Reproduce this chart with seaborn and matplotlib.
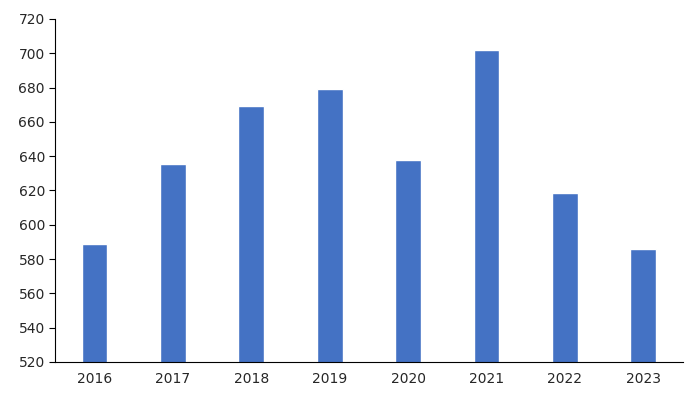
import matplotlib
matplotlib.use("Agg")
import matplotlib.pyplot as plt
import seaborn as sns
import pandas as pd

years = ["2016", "2017", "2018", "2019", "2020", "2021", "2022", "2023"]
values = [589, 635.5, 669, 679, 638, 702, 618.5, 586]

sns.set_style("white")
plt.rcParams['font.family'] = ['DejaVu Sans']
df = pd.DataFrame({"year": years, "value": values})
fig, ax = plt.subplots(figsize=(7, 4.03), dpi=100)
fig.subplots_adjust(left=0.079, right=0.975, top=0.953, bottom=0.102)
sns.barplot(data=df, x="year", y="value", color="#4472C4", width=0.33, ax=ax, saturation=1)
ax.set_ylim(520, 720)
ax.set_yticks(range(520, 721, 20))
ax.set_xlabel("")
ax.set_ylabel("")
for s in ["top", "right"]:
    ax.spines[s].set_visible(False)
for s in ["left", "bottom"]:
    ax.spines[s].set_color("black")
    ax.spines[s].set_linewidth(0.8)
ax.tick_params(axis="y", left=True, length=4, color="black", labelsize=10)
ax.tick_params(axis="x", bottom=False, labelsize=10)
fig.savefig("out.png")
